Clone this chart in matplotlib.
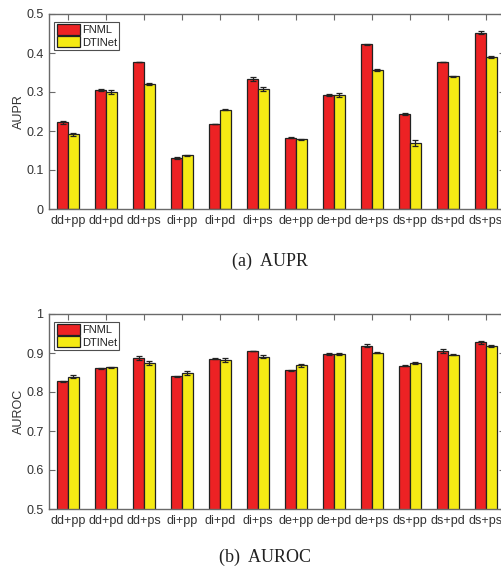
import matplotlib
matplotlib.use("Agg")
import matplotlib.pyplot as plt
import numpy as np

categories = ["dd+pp", "dd+pd", "dd+ps", "di+pp", "di+pd", "di+ps",
              "de+pp", "de+pd", "de+ps", "ds+pp", "ds+pd", "ds+ps"]
series = ["FNML", "DTINet"]

aupr_fnml = [0.222, 0.305, 0.377, 0.131, 0.218, 0.334, 0.183, 0.293, 0.422, 0.244, 0.377, 0.452]
aupr_dtinet = [0.192, 0.300, 0.321, 0.138, 0.255, 0.308, 0.179, 0.293, 0.356, 0.169, 0.340, 0.390]
aupr_fnml_err = [0.003, 0.003, 0.001, 0.002, 0.001, 0.005, 0.002, 0.003, 0.001, 0.003, 0.001, 0.004]
aupr_dtinet_err = [0.004, 0.005, 0.003, 0.001, 0.002, 0.006, 0.001, 0.005, 0.003, 0.007, 0.0005, 0.002]

auroc_fnml = [0.827, 0.861, 0.887, 0.840, 0.885, 0.905, 0.856, 0.898, 0.919, 0.867, 0.905, 0.927]
auroc_dtinet = [0.839, 0.863, 0.874, 0.849, 0.882, 0.891, 0.869, 0.897, 0.901, 0.875, 0.896, 0.918]
auroc_fnml_err = [0.002, 0.001, 0.006, 0.001, 0.001, 0.001, 0.001, 0.003, 0.003, 0.001, 0.005, 0.004]
auroc_dtinet_err = [0.004, 0.001, 0.005, 0.005, 0.005, 0.005, 0.004, 0.003, 0.001, 0.002, 0.001, 0.002]

aupr_ticks = [0, 0.1, 0.2, 0.3, 0.4, 0.5]
aupr_ticklabels = ["0", "0.1", "0.2", "0.3", "0.4", "0.5"]
auroc_ticks = [0.5, 0.6, 0.7, 0.8, 0.9, 1.0]
auroc_ticklabels = ["0.5", "0.6", "0.7", "0.8", "0.9", "1"]

RED = "#ED2224"
YEL = "#F5EA14"
TXT = "#333333"
SPINE = "#6a6a6a"

plt.rcParams["font.family"] = ["Liberation Sans", "DejaVu Sans"]

fig = plt.figure(figsize=(5.02, 5.68), dpi=100)

W = 502.0
H = 568.0
left = 49 / W
width = 456 / W
ax1 = fig.add_axes([left, 1 - 209 / H, width, 195 / H])
ax2 = fig.add_axes([left, 1 - 509 / H, width, 195 / H])


def draw(ax, a, b, ea, eb, ylim, ticks, ticklabels, ylabel):
    x = np.arange(1, len(categories) + 1)
    bw = 0.28
    ax.bar(x - bw / 2, a, bw, color=RED, edgecolor="#222222", linewidth=0.9,
           label=series[0], zorder=2)
    ax.bar(x + bw / 2, b, bw, color=YEL, edgecolor="#222222", linewidth=0.9,
           label=series[1], zorder=2)
    ax.errorbar(x - bw / 2, a, yerr=ea, fmt="none", ecolor="#222222",
                elinewidth=0.9, capsize=2.5, capthick=0.9, zorder=3)
    ax.errorbar(x + bw / 2, b, yerr=eb, fmt="none", ecolor="#222222",
                elinewidth=0.9, capsize=2.5, capthick=0.9, zorder=3)
    ax.set_xlim(0.5, len(categories) + 0.5)
    ax.set_ylim(*ylim)
    ax.set_xticks(x)
    ax.set_xticklabels(categories)
    ax.set_yticks(ticks)
    ax.set_yticklabels(ticklabels)
    ax.set_ylabel(ylabel, fontsize=9, color=TXT, labelpad=1)
    ax.tick_params(direction="in", top=True, right=True, length=4,
                   width=0.8, color=SPINE, labelcolor=TXT, labelsize=9, pad=4)
    for s in ax.spines.values():
        s.set_color(SPINE)
        s.set_linewidth(1.0)
    leg = ax.legend(loc="upper left", bbox_to_anchor=(0.012, 0.96),
                    fontsize=8, frameon=True, fancybox=False,
                    handlelength=2.1, handleheight=1.15, handletextpad=0.15,
                    borderpad=0.2, labelspacing=0.1, borderaxespad=0.0)
    leg.get_frame().set_edgecolor("#222222")
    leg.get_frame().set_linewidth(0.8)
    for t in leg.get_texts():
        t.set_color("#222222")


draw(ax1, aupr_fnml, aupr_dtinet, aupr_fnml_err, aupr_dtinet_err,
     (0, 0.5), aupr_ticks, aupr_ticklabels, "AUPR")
draw(ax2, auroc_fnml, auroc_dtinet, auroc_fnml_err, auroc_dtinet_err,
     (0.5, 1.0), auroc_ticks, auroc_ticklabels, "AUROC")

fig.text(270 / W, 1 - 261 / H, "(a)  AUPR", ha="center", va="center",
         fontsize=13, family=["Liberation Serif", "DejaVu Serif"], color="#222222")
fig.text(265 / W, 1 - 557 / H, "(b)  AUROC", ha="center", va="center",
         fontsize=13, family=["Liberation Serif", "DejaVu Serif"], color="#222222")

fig.savefig("out.png", dpi=100)
